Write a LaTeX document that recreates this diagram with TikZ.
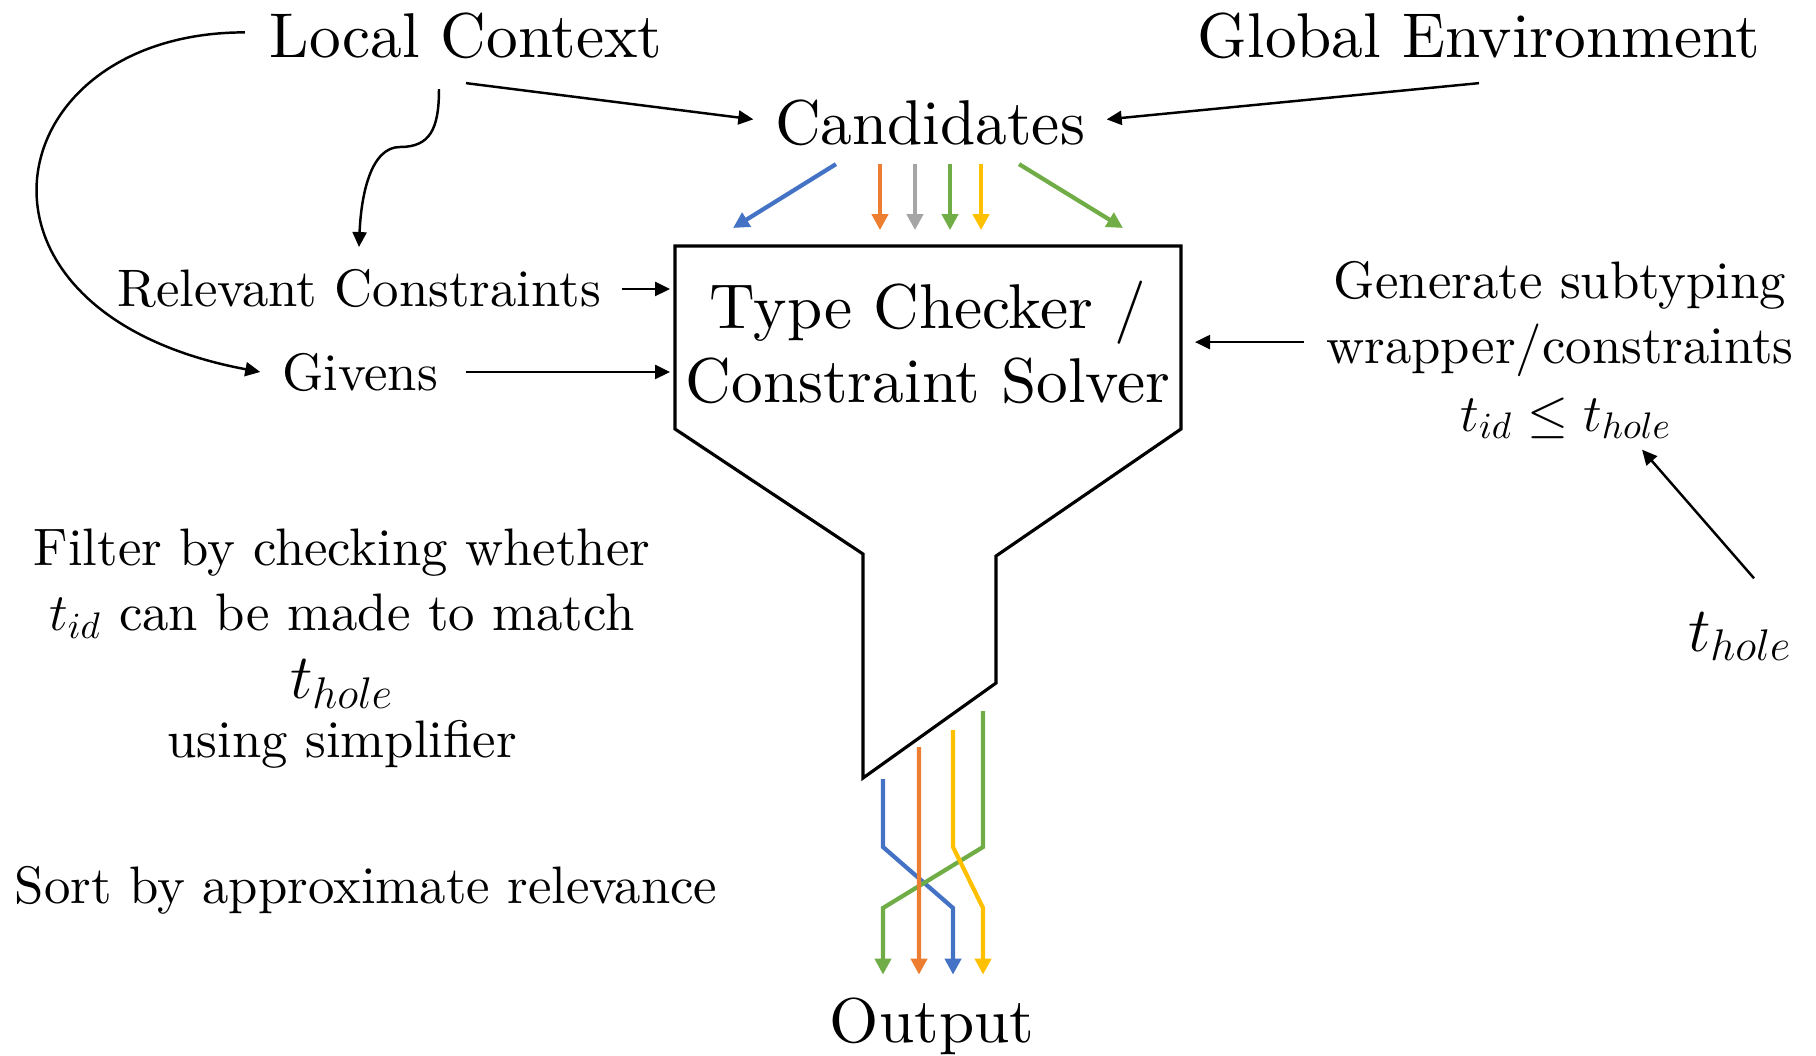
\RequirePackage{fix-cm}
\documentclass[tikz,border=0pt]{standalone}
\usepackage{amsmath}
\usepackage{amssymb}
\usepackage{fontspec}
\setmainfont{lmroman10}[Extension=.otf, UprightFont=*-regular, ItalicFont=*-italic, BoldFont=*-bold]
\usepackage{tikz}
\usepackage{xcolor}
\usetikzlibrary{arrows.meta, positioning, calc}
\definecolor{cBlue}{RGB}{68,114,196}
\definecolor{cOrange}{RGB}{237,125,49}
\definecolor{cGray}{RGB}{165,165,165}
\definecolor{cYellow}{RGB}{255,192,0}
\definecolor{cGreen}{RGB}{112,173,71}
\tikzset{
	bigtxt/.style  ={font=\fontsize{18}{21}\selectfont, inner sep=2pt, align=center},
	midtxt/.style  ={font=\fontsize{15}{18.5}\selectfont, inner sep=2pt, align=center},
	funnel/.style  ={draw=black, line width=0.9pt, line join=miter},
	blkarrow/.style={-{Triangle[length=1.5mm, width=1.4mm]}, line width=0.7pt},
	% coloured candidate streams
	sig/.style     ={-{Triangle[length=1.6mm, width=1.6mm]}, line width=1.2pt},
}

\begin{document}
\begin{tikzpicture}[x=0.01cm, y=-0.01cm]
	\useasboundingbox (0,0) rectangle (1816,1055);
	\node[bigtxt, anchor=base] (lc) at (466,58) {Local Context};
	\node[bigtxt, anchor=base] (ge) at (1479,58) {Global Environment};
	\node[bigtxt, anchor=base] (cand) at (930,145) {Candidates};
	\node[midtxt, anchor=base] (rc) at (359,307) {Relevant Constraints};
	\node[midtxt, anchor=base] (giv) at (360,390) {Givens};
	\node[midtxt, anchor=north] (gen) at (1560,254) {Generate subtyping\\ wrapper/constraints};
	\node[midtxt, anchor=base] (sub) at (1566,431) {$t_{id} \leq t_{hole}$};
	\node[bigtxt, anchor=base] (th) at (1740,651) {$t_{hole}$};
	\node[midtxt, anchor=north] (filt) at (342,521) {Filter by checking whether\\ $t_{id}$ can be made to match\\[1pt] {\fontsize{18}{21}\selectfont $t_{hole}$}\\[-2pt] using simplifier};
	\node[midtxt, anchor=base] (sort) at (366,903) {Sort by approximate relevance};
	\node[bigtxt, anchor=base] (out) at (932,1042) {Output};

	% funnel
	\draw[funnel] (675,246) coordinate (ftl) -- (1181,246) coordinate (ftr) -- (1181,429) -- (996,556) -- (996,683) -- (863,778) -- (863,554) -- (675,429) -- cycle;
	\node[bigtxt, anchor=north] (tc) at (928,273) {Type Checker /\\ Constraint Solver};

	% inputs
	\draw[blkarrow] ([yshift=-0.16cm]lc.south) -- ([xshift=-0.14cm, yshift=0.04cm]cand.west);
	\draw[blkarrow] ([yshift=-0.16cm]ge.south) -- ([xshift=0.14cm, yshift=0.04cm]cand.east);
	\coordinate (bend) at (400,147);
	\draw[blkarrow] ([xshift=-0.27cm, yshift=-0.22cm]lc.south) .. controls +(0,40) and +(30,0) .. (bend) .. controls +(-30,0) and +(2,-50) .. ([yshift=0.15cm]rc.north);
	\draw[blkarrow] ([xshift=-0.17cm, yshift=0.04cm]lc.west) .. controls +(-250,0) and +(-320,-60) .. ([xshift=-0.14cm]giv.west);
	\draw[blkarrow, shorten <=0.13cm, shorten >=0.05cm] (rc.east) -- (rc.east -| ftl);
	\draw[blkarrow, shorten <=0.2cm, shorten >=0.05cm] (giv.east) -- (giv.east -| ftl);
	\draw[blkarrow, shorten <=0.15cm, shorten >=0.14cm] (gen.west |- tc.east) -- (tc.east -| ftr);
	\draw[blkarrow] ([xshift=0.14cm, yshift=0.26cm]th.north) -- ([xshift=0.76cm, yshift=-0.03cm]sub.south);

	% candidates into the solver
	\draw[sig, cBlue] ([xshift=-0.94cm, yshift=-0.1cm]cand.south) -- ([xshift=0.58cm, yshift=0.18cm]ftl);
	\draw[sig, cOrange] ([xshift=-0.5cm, yshift=-0.1cm]cand.south) -- ++(0,66);
	\draw[sig, cGray] ([xshift=-0.15cm, yshift=-0.1cm]cand.south) -- ++(0,66);
	\draw[sig, cGreen] ([xshift=0.2cm, yshift=-0.1cm]cand.south) -- ++(0,66);
	\draw[sig, cYellow] ([xshift=0.51cm, yshift=-0.1cm]cand.south) -- ++(0,66);
	\draw[sig, cGreen] ([xshift=0.89cm, yshift=-0.1cm]cand.south) -- ([xshift=-0.58cm, yshift=0.18cm]ftr);

	% sorted output
	\coordinate (blueIn) at (883,779);
	\coordinate (orangeIn) at (919,747);
	\coordinate (yellowIn) at (953,730);
	\coordinate (greenIn) at (983,711);
	\draw[sig, cBlue] (blueIn) -- (883,847) -- (953,908) -- ([xshift=0.21cm, yshift=0.15cm]out.north);
	\draw[sig, cGreen] (greenIn) -- (983,847) -- (883,908) -- ([xshift=-0.49cm, yshift=0.15cm]out.north);
	\draw[sig, cOrange] (orangeIn) -- ([xshift=-0.13cm, yshift=0.15cm]out.north);
	\draw[sig, cYellow] (yellowIn) -- (953,847) -- (983,908) -- ([xshift=0.51cm, yshift=0.15cm]out.north);
\end{tikzpicture}
\end{document}
